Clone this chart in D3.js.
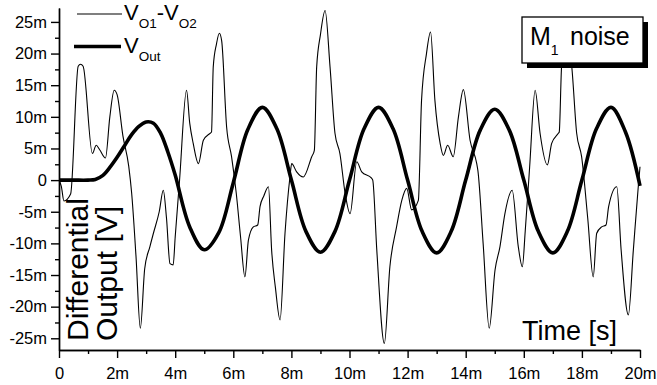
<!DOCTYPE html>
<html>
<head>
<meta charset="utf-8">
<script src="https://cdn.jsdelivr.net/npm/d3@7"></script>
<style>
  body { margin: 0; background: #fff; }
  svg { display: block; font-family: "Liberation Sans", Arial, sans-serif; }
  .axis path, .axis line { stroke: #000; stroke-width: 1.4; }
  .axis text { font-size: 16.5px; fill: #000; font-family: "Liberation Sans", Arial, sans-serif; }
</style>
</head>
<body>
<svg id="chart" width="657" height="385"></svg>
<script>
// time in ms, voltages in mV
const xTicks = [0, 2, 4, 6, 8, 10, 12, 14, 16, 18, 20];
const xTickLabels = ['0', '2m', '4m', '6m', '8m', '10m', '12m', '14m', '16m', '18m', '20m'];
const xMinorTicks = [1, 3, 5, 7, 9, 11, 13, 15, 17, 19];
const yTicks = [-25, -20, -15, -10, -5, 0, 5, 10, 15, 20, 25];
const yTickLabels = ['-25m', '-20m', '-15m', '-10m', '-5m', '0', '5m', '10m', '15m', '20m', '25m'];
const yMinorTicks = [-22.5, -17.5, -12.5, -7.5, -2.5, 2.5, 7.5, 12.5, 17.5, 22.5];

// V_Out (thick)
const outTime = [0, 0.5, 1.0, 1.25, 1.5, 1.75, 2.0, 2.25, 2.5, 2.75, 3.0, 3.25, 3.5, 3.75, 4.0, 4.5, 5.0, 5.5, 6.0,
  6.5, 7.0, 7.5, 8.0, 8.5, 9.0, 9.5, 10.0, 10.5, 11.0, 11.5, 12.0, 12.5, 13.0, 13.5, 14.0, 14.5, 15.0, 15.5,
  16.0, 16.5, 17.0, 17.5, 18.0, 18.5, 19.0, 19.5, 20.0];
const outValue = [0, 0, 0, 0.1, 0.7, 2.0, 3.6, 5.4, 7.2, 8.5, 9.2, 9.0, 7.4, 4.4, 0.8, -7.4, -11.0, -8.3, -0.4,
  8.0, 11.5, 8.1, 0, -8.1, -11.4, -8.1, 0, 8.1, 11.5, 8.1, 0, -8.1, -11.5, -8.1, 0, 7.9, 11.2, 7.9,
  0, -8.1, -11.5, -8.1, 0, 8.1, 11.5, 7.6, -0.9];

// V_O1 - V_O2 (thin)
const diffTime = [0, 0.08, 0.17, 0.4, 0.66, 0.74, 0.83, 1.15, 1.28, 1.4, 1.6, 1.75, 1.9, 2.0, 2.2, 2.4, 2.5, 2.65,
  2.8, 2.95, 3.13, 3.25, 3.45, 3.59, 3.7, 3.82, 3.93, 4.0, 4.15, 4.39, 4.5, 4.62, 4.8, 4.97, 5.2, 5.25, 5.31,
  5.42, 5.52, 5.6, 5.77, 5.94, 6.1, 6.25, 6.4, 6.52, 6.69, 6.84, 6.92, 7.05, 7.21, 7.32, 7.45, 7.61, 7.78, 7.95,
  8.01, 8.18, 8.41, 8.7, 8.79, 8.87, 9.0, 9.16, 9.33, 9.5, 9.67, 9.85, 10.02, 10.25, 10.42, 10.76, 10.8, 10.94,
  11.2, 11.39, 11.62, 11.8, 11.97, 12.14, 12.37, 12.48, 12.65, 12.79, 12.94, 13.12, 13.23, 13.38, 13.57, 13.75,
  13.92, 14.15, 14.38, 14.42, 14.6, 14.81, 15.01, 15.18, 15.35, 15.6, 15.81, 15.95, 16.05, 16.2, 16.39, 16.56,
  16.81, 16.96, 17.19, 17.22, 17.3, 17.47, 17.65, 17.82, 17.99, 18.2, 18.39, 18.51, 18.68, 18.83, 18.92, 19.2,
  19.35, 19.6, 19.77, 19.94, 20.0];
const diffValue = [0, -1, -3.3, -2.2, 18.0, 18.3, 18.0, 4.2, 5.5, 4.8, 3.5, 10, 14.2, 13.5, 7, 2.2, -2, -12,
  -23.4, -14, -10.5, -8.4, -5, -1.6, -6, -13.2, -13.4, -9, 0, 14.2, 9, 5.8, 2.6, 6.3, 7.4, 7.6, 17.9,
  21.5, 23.2, 22, 8.4, 3.7, -2, -9, -15.3, -9.5, -7.4, -7.1, -4.2, -2.5, -1.05, -11.1, -17, -22.1, -8.4, 0.5,
  2.6, 1.3, 0.5, 3.7, 4.7, 17.9, 23, 26.8, 17.9, 7.4, 4.2, -2.1, -5.3, 2.9, 1.3, 0.3, 0, -11.1,
  -25.8, -13.7, -7.4, -3.2, -1.3, -4.7, -3.2, 12.6, 20, 23.4, 12.6, 5.8, 3.9, 5.5, 3.7, 10,
  14.3, 6.3, 2.6, 1.5, -10, -23.4, -14.2, -10.5, -5.3, -1.6, -10.5, -13.7, -8, 2, 14.2, 7.4,
  2.4, 5.8, 7.4, 7.6, 17.9, 23, 18, 7.4, 3.7, -6, -15.3, -8.4, -7.4, -7.1, -4.2, -1.05,
  -11, -21.3, -11.1, -1.05, 2.1];

const svg = d3.select('#chart');

const xScale = d3.scaleLinear().domain([0, 20]).range([59, 640]);
const yScale = d3.scaleLinear().domain([-26.85, 27.2]).range([350, 8]);

// axes
svg.append('g')
  .attr('class', 'axis')
  .attr('transform', 'translate(0,350)')
  .call(d3.axisBottom(xScale).tickValues(xTicks)
    .tickFormat((d, i) => xTickLabels[i]).tickSize(8).tickSizeOuter(0).tickPadding(9));
svg.append('g')
  .attr('class', 'axis')
  .attr('transform', 'translate(0,350)')
  .call(d3.axisBottom(xScale).tickValues(xMinorTicks).tickFormat('').tickSize(4).tickSizeOuter(0));
svg.append('g')
  .attr('class', 'axis')
  .attr('transform', 'translate(59,0)')
  .call(d3.axisLeft(yScale).tickValues(yTicks)
    .tickFormat((d, i) => yTickLabels[i]).tickSize(8).tickSizeOuter(0).tickPadding(4));
svg.append('g')
  .attr('class', 'axis')
  .attr('transform', 'translate(59,0)')
  .call(d3.axisLeft(yScale).tickValues(yMinorTicks).tickFormat('').tickSize(4).tickSizeOuter(0));

// lines
const line = d3.line()
  .x((d) => xScale(d[0]))
  .y((d) => yScale(d[1]));

svg.append('path')
  .datum(diffTime.map((t, i) => [t, diffValue[i]]))
  .attr('d', line.curve(d3.curveMonotoneX))
  .style('fill', 'none')
  .style('stroke', '#000')
  .style('stroke-width', 1.1);

svg.append('path')
  .datum(outTime.map((t, i) => [t, outValue[i]]))
  .attr('d', line.curve(d3.curveCatmullRom))
  .style('fill', 'none')
  .style('stroke', '#000')
  .style('stroke-width', 3.6);

// legend
const legend = svg.append('g');
legend.append('line')
  .attr('x1', 77).attr('x2', 122).attr('y1', 14).attr('y2', 14)
  .style('stroke', '#000').style('stroke-width', 1.1);
legend.append('line')
  .attr('x1', 74).attr('x2', 121).attr('y1', 46.5).attr('y2', 46.5)
  .style('stroke', '#000').style('stroke-width', 3.6);

const t1 = legend.append('text').attr('x', 124).attr('y', 20).style('font-size', '22px');
t1.append('tspan').text('V');
t1.append('tspan').attr('dy', 8).style('font-size', '13.5px').text('O1');
t1.append('tspan').attr('dy', -8).text('-V');
t1.append('tspan').attr('dy', 8).style('font-size', '13.5px').text('O2');

const t2 = legend.append('text').attr('x', 124).attr('y', 53).style('font-size', '22px');
t2.append('tspan').text('V');
t2.append('tspan').attr('dy', 8).style('font-size', '13.5px').text('Out');

// "M1 noise" box with shadow
svg.append('rect')
  .attr('x', 527).attr('y', 22).attr('width', 121).attr('height', 46)
  .style('fill', '#000');
svg.append('rect')
  .attr('x', 522).attr('y', 17).attr('width', 121).attr('height', 46)
  .style('fill', '#fff').style('stroke', '#000').style('stroke-width', 1.3);
const box = svg.append('text').attr('x', 530).attr('y', 45).style('font-size', '25px');
box.append('tspan').text('M');
box.append('tspan').attr('dy', 10).style('font-size', '14px').text('1');
box.append('tspan').attr('dy', -10).attr('x', 570).text('noise');

// axis titles
svg.append('text')
  .attr('x', 522).attr('y', 340)
  .style('font-size', '27px')
  .text('Time [s]');
svg.append('text')
  .attr('transform', 'translate(88,341) rotate(-90)')
  .style('font-size', '30px')
  .text('Differential');
svg.append('text')
  .attr('transform', 'translate(117,341) rotate(-90)')
  .style('font-size', '30px')
  .text('Output [V]');
</script>
</body>
</html>
